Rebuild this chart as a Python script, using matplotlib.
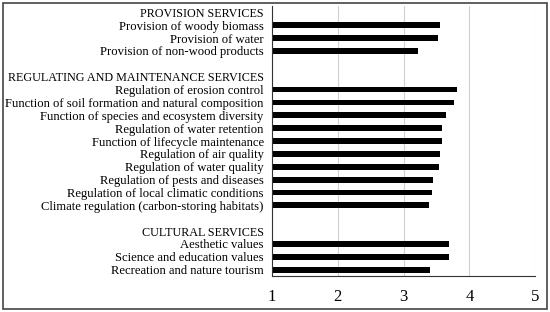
import matplotlib.pyplot as plt
from matplotlib.patches import Rectangle

# Group headers and their services with mean scores (1-5)
groups = ['PROVISION SERVICES', 'REGULATING AND MAINTENANCE SERVICES', 'CULTURAL SERVICES']

provision = ['Provision of woody biomass', 'Provision of water', 'Provision of non-wood products']
provision_vals = [3.56, 3.52, 3.22]

regulating = ['Regulation of erosion control',
              'Function of soil formation and natural composition',
              'Function of species and ecosystem diversity',
              'Regulation of water retention',
              'Function of lifecycle maintenance',
              'Regulation of air quality',
              'Regulation of water quality',
              'Regulation of pests and diseases',
              'Regulation of local climatic conditions',
              'Climate regulation (carbon-storing habitats)']
regulating_vals = [3.81, 3.76, 3.64, 3.59, 3.58, 3.55, 3.54, 3.44, 3.43, 3.38]

cultural = ['Aesthetic values', 'Science and education values', 'Recreation and nature tourism']
cultural_vals = [3.69, 3.69, 3.40]

# Build rows top to bottom, with a header row and a blank spacer between groups
labels = []
values = []
for i, (g, names, vals) in enumerate(zip(groups,
                                         [provision, regulating, cultural],
                                         [provision_vals, regulating_vals, cultural_vals])):
    if i > 0:
        labels.append('')
        values.append(None)
    labels.append(g)
    values.append(None)
    labels += names
    values += vals

plt.rcParams['font.family'] = 'Liberation Serif'

fig = plt.figure(figsize=(5.5, 3.12), dpi=100)
ax = fig.add_axes([0.4945, 0.115, 0.4785, 0.866])

n = len(labels)
ys = list(range(n))
for y, v in zip(ys, values):
    if v is not None:
        ax.barh(y, v - 1, left=1, height=0.45, color='black')

ax.set_ylim(n - 0.5, -0.5)
ax.set_yticks(ys)
ax.set_yticklabels(labels, fontsize=9.1)
for t in ax.get_yticklabels():
    if t.get_text() in groups:
        t.set_fontsize(8.75)
ax.tick_params(axis='y', length=0, pad=6)

ax.set_xlim(1, 5)
ax.set_xticks([1, 2, 3, 4, 5])
ax.tick_params(axis='x', length=0, labelsize=12, pad=9)
ax.xaxis.grid(True, color='#d0d0d0', linewidth=0.8)
ax.set_axisbelow(True)

for s in ['top', 'right']:
    ax.spines[s].set_visible(False)
ax.spines['left'].set_color('#333333')
ax.spines['bottom'].set_color('#333333')
ax.spines['left'].set_linewidth(0.8)
ax.spines['bottom'].set_linewidth(0.8)

# outer frame around the whole chart
fig.patches.append(Rectangle((0.006, 0.01), 0.988, 0.98, transform=fig.transFigure,
                             fill=False, edgecolor='#444444', linewidth=1.2))

fig.savefig('out.png', dpi=100)
